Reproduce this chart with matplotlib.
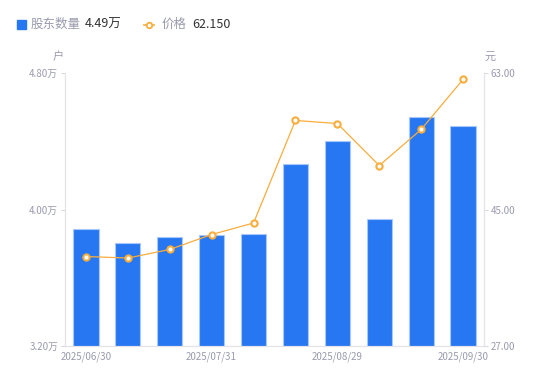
import numpy as np
import matplotlib
matplotlib.use('Agg')
import matplotlib.pyplot as plt
from matplotlib.lines import Line2D

plt.rcParams['font.family'] = ['Noto Sans CJK SC', 'DejaVu Sans']

dates = ['2025/06/30', '2025/07/15', '2025/07/25', '2025/07/31', '2025/08/10',
         '2025/08/15', '2025/08/29', '2025/09/10', '2025/09/20', '2025/09/30']
holders = [3.883, 3.804, 3.839, 3.853, 3.856, 4.264, 4.401, 3.947, 4.542, 4.489]
price = [38.80, 38.60, 39.73, 41.70, 43.22, 56.74, 56.34, 50.80, 55.55, 62.15]
shown_ticks = [0, 3, 6, 9]

grey = '#9a9aae'
blue = '#2777f2'
orange = '#f8ad3c'

fig = plt.figure(figsize=(5.5, 3.81), dpi=100)
ax = fig.add_axes([65/550, 35/381, 419/550, 273/381])
ax2 = ax.twinx()

x = np.arange(len(dates))
ax.bar(x, holders, width=0.6, color=blue, edgecolor='#a9c8fa', linewidth=0.8, zorder=2)
ax.set_xlim(-0.5, len(dates) - 0.5)
ax.set_ylim(3.2, 4.8)
ax.set_yticks([3.2, 4.0, 4.8])
ax.set_yticklabels(['3.20万', '4.00万', '4.80万'])
ax.set_xticks(shown_ticks)
ax.set_xticklabels([dates[i] for i in shown_ticks])

ax2.plot(x, price, color=orange, lw=0.9, marker='o', ms=4.5, mfc='white',
         mec=orange, mew=1.5, zorder=3)
ax2.set_ylim(27, 63)
ax2.set_yticks([27, 45, 63])
ax2.set_yticklabels(['27.00', '45.00', '63.00'])

for a in (ax, ax2):
    for s in a.spines.values():
        s.set_color('#e3e3e8')
    a.spines['top'].set_visible(False)
    a.tick_params(colors=grey, labelsize=7, length=3, width=0.6, color='#d0d0d8')
ax.tick_params(axis='x', length=0, pad=4)
ax2.tick_params(axis='y', pad=2)
ax.tick_params(axis='y', pad=2)

# units
fig.text(58/550, 1 - 57/381, '户', color=grey, fontsize=8, ha='center', va='center')
fig.text(490/550, 1 - 57/381, '元', color=grey, fontsize=8, ha='center', va='center')

# legend row
fig.patches.append(plt.Rectangle((17/550, 1 - 29/381), 9/550, 9/381,
                                 transform=fig.transFigure, color=blue, figure=fig))
fig.text(31/550, 1 - 24.5/381, '股东数量', color=grey, fontsize=9, va='center')
fig.text(85/550, 1 - 24.5/381, '4.49万', color='#333333', fontsize=9, va='center')
fig.lines.append(Line2D([144/550, 154/550], [1 - 24.5/381] * 2, transform=fig.transFigure,
                        color=orange, lw=1.2, marker='o', markevery=[0], ms=0))
fig.lines.append(Line2D([149/550], [1 - 24.5/381], transform=fig.transFigure,
                        color=orange, marker='o', ms=4, mfc='white', mew=1.3, lw=0))
fig.text(162/550, 1 - 24.5/381, '价格', color=grey, fontsize=9, va='center')
fig.text(192/550, 1 - 24.5/381, '62.150', color='#333333', fontsize=9, va='center')

fig.savefig('out.png', dpi=100)
